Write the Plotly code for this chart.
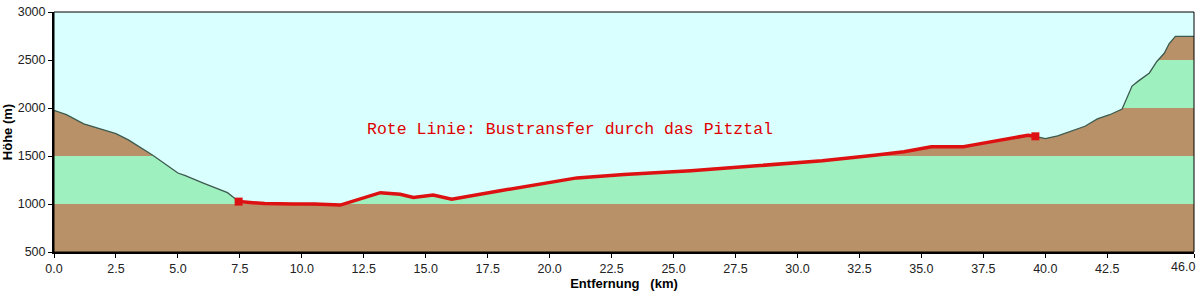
import plotly.graph_objects as go

# Terrain profile (distance km, elevation m)
dist_km = [0.0, 0.5, 1.2, 2.0, 2.5, 3.0, 4.0, 5.0, 5.3, 6.0, 7.0, 7.3,
           7.45, 8.5, 9.66, 10.5, 11.55, 12.3, 13.17, 13.97, 14.5, 15.3, 16.05,
           18.0, 20.5, 21.1, 23.0, 25.7, 28.35, 31.0, 33.2, 34.3, 35.4, 36.7,
           37.05, 38.2, 39.3, 39.6,
           40.0, 40.5, 41.1, 41.6, 42.1, 42.6, 43.1, 43.3, 43.5, 43.75, 44.2,
           44.5, 44.8, 45.0, 45.25, 46.0]
elev_m = [1975, 1930, 1835, 1770, 1733, 1668, 1505, 1323, 1295, 1220, 1118, 1058,
          1025, 1005, 999, 1000, 989, 1050, 1118, 1101, 1067, 1094, 1050,
          1138, 1244, 1272, 1306, 1347, 1398, 1450, 1511, 1545, 1596, 1596,
          1613, 1665, 1716, 1705,
          1681, 1710, 1767, 1810, 1886, 1930, 1989, 2109, 2228, 2280, 2365,
          2485, 2570, 2672, 2747, 2747]

# Bus transfer segment (red line)
bus_start_km = 7.45
bus_end_km = 39.6

# Elevation bands
band_edges = [500, 1000, 1500, 2000, 2500, 3000]
band_colors = ["#B99169", "#9FF0BF", "#B99169", "#9FF0BF", "#B99169"]

x_ticks = [0.0, 2.5, 5.0, 7.5, 10.0, 12.5, 15.0, 17.5, 20.0, 22.5, 25.0, 27.5,
           30.0, 32.5, 35.0, 37.5, 40.0, 42.5, 46.0]
y_ticks = [500, 1000, 1500, 2000, 2500, 3000]

SKY = "#D9FFFF"

fig = go.Figure()

shapes = []
for i, col in enumerate(band_colors):
    shapes.append(dict(type="rect", xref="x", yref="y", layer="below",
                       x0=0, x1=46, y0=band_edges[i], y1=band_edges[i + 1],
                       fillcolor=col, line=dict(width=0)))
shapes.append(dict(type="rect", xref="paper", yref="paper", x0=0, x1=1, y0=0, y1=1,
                   line=dict(color="black", width=1), layer="above"))

fig.add_trace(go.Scatter(x=dist_km, y=[3000] * len(dist_km), mode="lines",
                         line=dict(width=0), hoverinfo="skip", showlegend=False))
fig.add_trace(go.Scatter(x=dist_km, y=elev_m, mode="lines", fill="tonexty",
                         fillcolor=SKY, line=dict(color="#3C5A4E", width=1.3),
                         showlegend=False))

bus_x = [d for d in dist_km if bus_start_km <= d <= bus_end_km]
bus_y = [e for d, e in zip(dist_km, elev_m) if bus_start_km <= d <= bus_end_km]
fig.add_trace(go.Scatter(x=bus_x, y=bus_y, mode="lines",
                         line=dict(color="#DD1111", width=3.5), showlegend=False))
fig.add_trace(go.Scatter(x=[bus_x[0], bus_x[-1]], y=[bus_y[0], bus_y[-1]], mode="markers",
                         marker=dict(symbol="square", size=8, color="#DD1111"),
                         showlegend=False))

tick_font = dict(family="Liberation Sans Narrow, Arial Narrow, Arial, sans-serif", size=12.5, color="#222")

fig.add_annotation(xref="paper", yref="paper", x=(570 - 54) / 1140, y=(252 - 127) / 244,
                   text="Rote Linie: Bustransfer durch das Pitztal", showarrow=False,
                   font=dict(family="Liberation Mono, Courier New, monospace", size=16.5, color="#E00000"))
# last x tick label, right-aligned at the plot edge
fig.add_annotation(xref="paper", yref="paper", x=1.0, y=0, xshift=3, yshift=-6,
                   xanchor="right", yanchor="top", text=f"{x_ticks[-1]:.1f}", showarrow=False,
                   font=tick_font)

fig.update_layout(
    width=1199, height=293,
    margin=dict(l=54, r=5, t=8, b=41),
    paper_bgcolor="white", plot_bgcolor=SKY,
    shapes=shapes,
    xaxis=dict(range=[0, 46], tickvals=x_ticks,
               ticktext=[f"{v:.1f}" for v in x_ticks[:-1]] + [""],
               showgrid=False, zeroline=False, showline=True, linecolor="black", linewidth=2,
               ticks="outside", ticklen=4, tickcolor="black", tickfont=tick_font,
               title=dict(text="<b>Entfernung   (km)</b>", standoff=1,
                          font=dict(family="Arial, Liberation Sans, sans-serif", size=13, color="black"))),
    yaxis=dict(range=[500, 3000], tickvals=y_ticks,
               showgrid=False, zeroline=False, showline=True, linecolor="black", linewidth=2,
               ticks="outside", ticklen=4, tickcolor="black", tickfont=tick_font,
               title=dict(text="<b>Höhe (m)</b>", standoff=2,
                          font=dict(family="Arial, Liberation Sans, sans-serif", size=13, color="black"))),
)

fig.write_html("out.html")
